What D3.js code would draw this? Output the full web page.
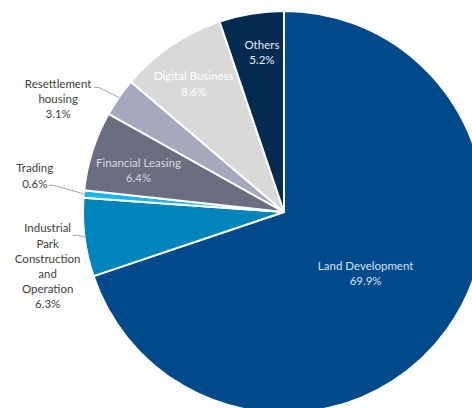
<!DOCTYPE html>
<html>
<head>
<meta charset="utf-8">
<script src="https://cdn.jsdelivr.net/npm/d3@7"></script>
<style>
    html, body { margin: 0; padding: 0; background: #fff; overflow: hidden; }
    svg { display: block; font-family: Lato, "Open Sans", sans-serif; }
</style>
</head>
<body>
<script>
// segment names (clockwise from 12 o'clock) and their shares
const categories = ["Land Development", "Industrial Park Construction and Operation", "Trading",
    "Financial Leasing", "Resettlement housing", "Digital Business", "Others"];
const shares = [69.9, 6.3, 0.6, 6.4, 3.1, 8.6, 5.2];
const labelLines = [
    ["Land Development", "69.9%"],
    ["Industrial", "Park", "Construction", "and", "Operation", "6.3%"],
    ["Trading", "0.6%"],
    ["Financial Leasing", "6.4%"],
    ["Resettlement", "housing", "3.1%"],
    ["Digital Business", "8.6%"],
    ["Others", "5.2%"]
];

const colors = ["#00498b", "#0085bb", "#1ab6ea", "#6b6d81", "#a6a9be", "#d9d9d9", "#032b52"];
const textColors = ["#d6e2f0", "#404040", "#404040", "#d8d8de", "#404040", "#ffffff", "#e8eef5"];

// label layout: inside labels sit on a ring, outside ones get an elbow leader line
const layout = [
    {inside: true, k: 0.5, dx: 0, dy: 3},
    {inside: false, k: 1.035, ey: -3, dx: -25, dy: -7},
    {inside: false, k: 1.15, ey: -6, dx: -14, dy: -17},
    {inside: true, k: 0.76, dx: 0, dy: 5},
    {inside: false, k: 1.12, ey: 4, dx: -36, dy: -4},
    {inside: true, k: 0.8, dx: 0, dy: 5},
    {inside: true, k: 0.83, dx: 5, dy: 5}
];

const width = 472, height = 408;
const cx = 284, cy = 212, r = 201;
const lineH = 15.2;
const stub = 5;

const svg = d3.select("body")
    .append("svg")
    .attr("width", width)
    .attr("height", height);

const g = svg.append("g")
    .attr("transform", `translate(${cx},${cy})`);

const pie = d3.pie()
    .sort(null)
    .value((d) => d);

const arcs = pie(shares);

const arc = d3.arc()
    .innerRadius(0)
    .outerRadius(r);

g.selectAll("path.slice")
    .data(arcs)
    .enter()
    .append("path")
    .attr("class", "slice")
    .attr("d", arc)
    .attr("fill", (d, i) => colors[i])
    .attr("stroke", "#fff")
    .attr("stroke-width", 2)
    .attr("stroke-linejoin", "round");

arcs.forEach(function(d, i) {
    let lay = layout[i];
    let lines = labelLines[i];
    let ringArc = d3.arc().innerRadius(r * lay.k).outerRadius(r * lay.k);
    let [px, py] = ringArc.centroid(d);
    let tx, ty;
    if(lay.inside){
        tx = px + lay.dx;
        ty = py + lay.dy - (lines.length - 1) * lineH / 2;
    }
    else{
        let edge = d3.arc().innerRadius(r - 1).outerRadius(r - 1).centroid(d);
        let elbow = [px, py + lay.ey];
        let end = [elbow[0] - stub, elbow[1]];
        g.append("path")
            .attr("d", d3.line()([edge, elbow, end]))
            .attr("fill", "none")
            .attr("stroke", "#a6a6a6")
            .attr("stroke-width", 1);
        tx = end[0] + lay.dx;
        ty = end[1] + lay.dy;
    }
    let text = g.append("text")
        .attr("text-anchor", "middle")
        .attr("font-size", "11.5px")
        .attr("fill", textColors[i]);
    lines.forEach(function(line, j) {
        text.append("tspan")
            .attr("x", tx)
            .attr("y", ty + j * lineH)
            .attr("dy", "0.35em")
            .text(line);
    });
});
</script>
</body>
</html>
